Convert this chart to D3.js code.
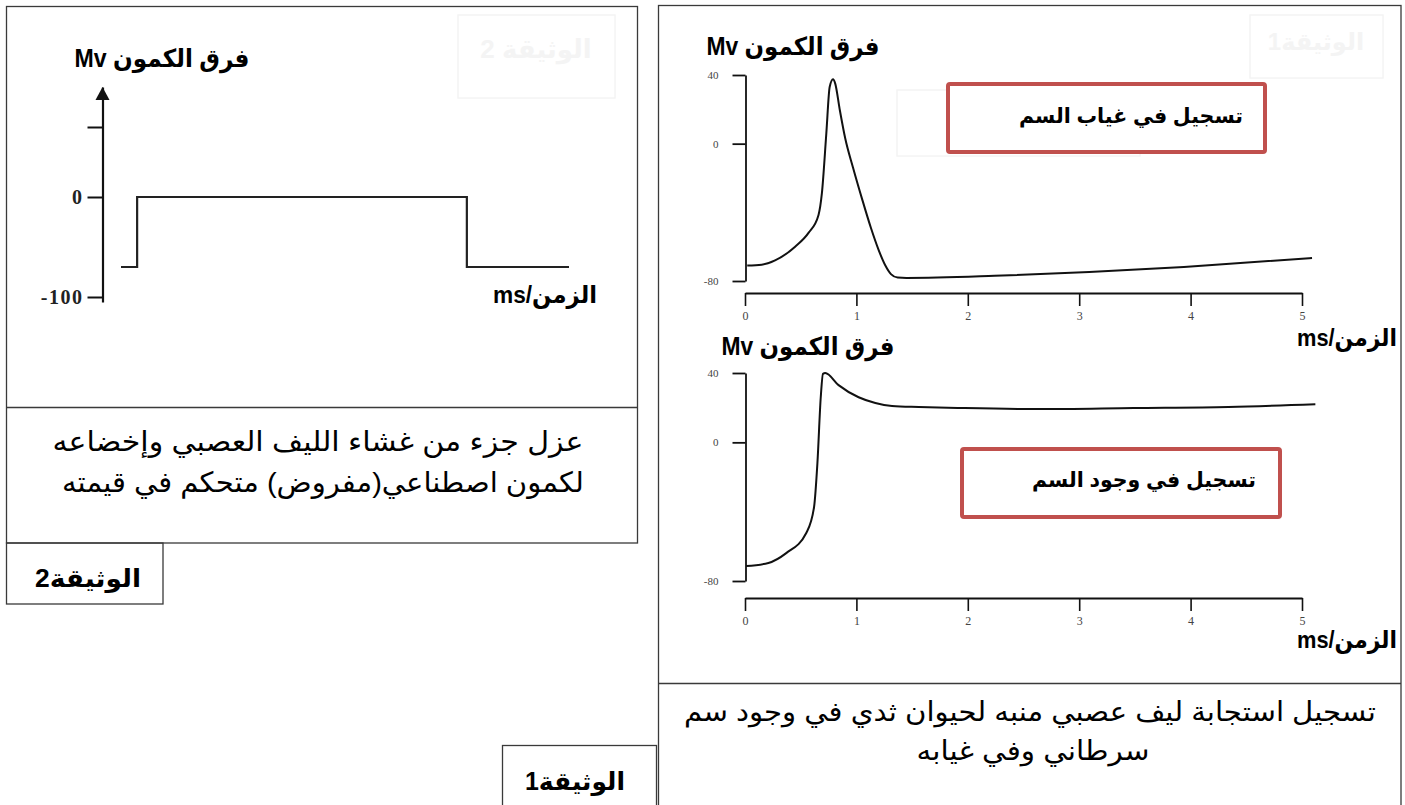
<!DOCTYPE html>
<html lang="ar">
<head>
<meta charset="utf-8">
<script src="https://cdn.jsdelivr.net/npm/d3@7"></script>
<style>
  html, body { margin: 0; padding: 0; background: #fff; }
  svg { display: block; }
  .ar { direction: rtl; unicode-bidi: embed; }
</style>
</head>
<body>
<svg id="chart" width="1405" height="805"></svg>
<script>
// ---- Document 2: imposed (clamped) membrane potential ----
const clampTime = [0, 0.36, 0.36, 7.72, 7.72, 10];     // ms (schematic)
const clampVolt = [-70, -70, 0, 0, -70, -70];          // mV
const clampTickValues = [70, 0, -100];
const clampTickLabels = ["", "0", "-100"];

// ---- Document 1: recordings from a stimulated nerve fibre ----
const timeTicks = [0, 1, 2, 3, 4, 5];
const voltTicks = [40, 0, -80];
const voltTickLabels = ["40", "0", "-80"];

// recording without the toxin
const ctrlTime = [0.02, 0.15, 0.27, 0.45, 0.57, 0.66, 0.69, 0.73, 0.76, 0.79, 0.81, 0.85, 0.90, 0.97, 1.05, 1.13, 1.20, 1.26, 1.31, 1.37, 1.45, 2.24, 3.09, 3.94, 5.09];
const ctrlVolt = [-71, -70.5, -68, -60, -52, -41.5, -29, 6, 33, 37.5, 35, 20, 3, -14, -32, -49, -62, -71, -76, -78, -78.2, -77, -74.8, -71.8, -66.6];

// recording with the toxin
const toxTime = [0.01, 0.21, 0.37, 0.55, 0.62, 0.65, 0.68, 0.70, 0.72, 0.84, 1.02, 1.17, 1.32, 1.56, 1.95, 2.63, 3.49, 4.34, 5.12];
const toxVolt = [-71.4, -69.6, -63.9, -52.3, -37.3, -12, 26, 39.5, 40, 33, 26, 22.7, 21, 20.4, 19.8, 19.2, 19.8, 20.4, 22];

const yTitle = "فرق الكمون Mv";
const xTitle = "الزمن/ms";
const caption2 = ["عزل جزء من غشاء الليف العصبي وإخضاعه", "لكمون اصطناعي(مفروض) متحكم في قيمته"];
const caption1 = ["تسجيل استجابة ليف عصبي منبه لحيوان ثدي في وجود سم", "سرطاني وفي غيابه"];
const docLabel2 = "الوثيقة2";
const docLabel1 = "الوثيقة1";
const boxCtrl = "تسجيل في غياب السم";
const boxTox = "تسجيل في وجود السم";

const AR = "'Liberation Sans', Arial, 'DejaVu Sans', sans-serif";
const SERIF = "'Liberation Serif', 'Times New Roman', serif";
const FRAME = "#3a3a3a";
const RED = "#c0504d";

const svg = d3.select("#chart");

// Arabic text centred on x, optionally fitted to a given width
function arText(g, x, y, txt, size, weight, fill, width) {
  const t = g.append("text")
    .attr("class", "ar")
    .attr("x", x).attr("y", y)
    .attr("text-anchor", "middle")
    .attr("font-family", AR)
    .attr("font-size", size)
    .attr("font-weight", weight || "normal")
    .attr("fill", fill || "#000")
    .text(txt);
  if (width) t.attr("textLength", width).attr("lengthAdjust", "spacingAndGlyphs");
  return t;
}

// faint show-through of the page behind
const ghost = svg.append("g").attr("fill", "none").attr("stroke", "#f4f4f4").attr("stroke-width", 1.5);
ghost.append("rect").attr("x", 458).attr("y", 15).attr("width", 157).attr("height", 83);
ghost.append("rect").attr("x", 1250).attr("y", 15).attr("width", 133).attr("height", 63);
ghost.append("rect").attr("x", 897).attr("y", 90).attr("width", 243).attr("height", 66);
arText(svg, 536, 58, "الوثيقة 2", 26, "bold", "#f4f4f4");
arText(svg, 1316, 50, "الوثيقة1", 24, "bold", "#f4f4f4");

// ---------- frames ----------
const frames = svg.append("g").attr("fill", "none").attr("stroke", FRAME).attr("stroke-width", 1.3);
frames.append("rect").attr("x", 6.5).attr("y", 6.5).attr("width", 631).attr("height", 536.5);
frames.append("line").attr("x1", 6.5).attr("x2", 637.5).attr("y1", 407.5).attr("y2", 407.5);
frames.append("rect").attr("x", 6.5).attr("y", 543).attr("width", 156.5).attr("height", 61);
frames.append("rect").attr("x", 658.5).attr("y", 5.5).attr("width", 742.5).attr("height", 810);
frames.append("line").attr("x1", 658.5).attr("x2", 1401).attr("y1", 683.5).attr("y2", 683.5);
frames.append("rect").attr("x", 502.5).attr("y", 745.5).attr("width", 154).attr("height", 70);

// ---------- document 2 chart ----------
const xL = d3.scaleLinear().domain([0, 10]).range([121, 569]);
const yL = d3.scaleLinear().domain([-105, 110]).range([302, 87]);

const axL = svg.append("g").attr("transform", "translate(102.5,0)")
  .call(d3.axisLeft(yL).tickValues(clampTickValues)
    .tickFormat((d, i) => clampTickLabels[i]).tickSize(15).tickSizeOuter(0).tickPadding(4));
axL.select(".domain").attr("stroke", "#111").attr("stroke-width", 2.2);
axL.selectAll(".tick line").attr("stroke", "#111").attr("stroke-width", 2);
axL.selectAll(".tick text").attr("font-family", SERIF).attr("font-weight", "bold")
  .attr("font-size", 20).attr("fill", "#222").attr("letter-spacing", 1.5);
// arrow head on the potential axis
svg.append("path")
  .attr("d", `M${102.5 - 7},${yL(110) + 13} L${102.5},${yL(110)} L${102.5 + 7},${yL(110) + 13} Z`)
  .attr("fill", "#111");

svg.append("path")
  .datum(clampTime.map((t, i) => [t, clampVolt[i]]))
  .attr("fill", "none").attr("stroke", "#222").attr("stroke-width", 2.2)
  .attr("d", d3.line().x(d => xL(d[0])).y(d => yL(d[1])));

arText(svg, 162, 67, yTitle, 25, "bold", "#000", 175);
arText(svg, 545, 303, xTitle, 24, "bold", "#000", 104);

arText(svg, 318, 451, caption2[0], 28, "normal", "#000", 531);
arText(svg, 323, 492, caption2[1], 28, "normal", "#000", 522);
arText(svg, 88, 587, docLabel2, 25, "bold", "#000", 106);

// ---------- document 1 charts ----------
const xR = d3.scaleLinear().domain([0, 5]).range([745, 1302]);

function recording(top, bottom, axisY, times, volts, title, titleX, titleY, xlabY, box, boxText, boxTextX, boxTextY) {
  const y = d3.scaleLinear().domain([-80, 40]).range([bottom, top]);

  const ay = svg.append("g").attr("transform", "translate(745.5,0)")
    .call(d3.axisLeft(y).tickValues(voltTicks).tickFormat((d, i) => voltTickLabels[i])
      .tickSize(13).tickSizeOuter(0).tickPadding(14));
  ay.select(".domain").attr("stroke", "#111").attr("stroke-width", 1.8);
  ay.selectAll(".tick line").attr("stroke", "#111").attr("stroke-width", 1.8);
  ay.selectAll(".tick text").attr("font-family", SERIF).attr("font-size", 11).attr("fill", "#444");

  const ax = svg.append("g").attr("transform", `translate(0,${axisY})`)
    .call(d3.axisBottom(xR).tickValues(timeTicks).tickFormat(d3.format("d"))
      .tickSize(13).tickSizeOuter(0).tickPadding(5));
  ax.select(".domain").attr("stroke", "#111").attr("stroke-width", 1.8);
  ax.selectAll(".tick line").attr("stroke", "#111").attr("stroke-width", 1.6);
  ax.selectAll(".tick text").attr("font-family", SERIF).attr("font-size", 12).attr("fill", "#444");

  svg.append("path")
    .datum(times.map((t, i) => [t, volts[i]]))
    .attr("fill", "none").attr("stroke", "#111").attr("stroke-width", 2)
    .attr("stroke-linejoin", "round")
    .attr("d", d3.line().curve(d3.curveMonotoneX).x(d => xR(d[0])).y(d => y(d[1])));

  arText(svg, titleX, titleY, title, 25, "bold", "#000", 173);
  arText(svg, 1347, xlabY, xTitle, 24, "bold", "#000", 100);

  svg.append("rect").attr("x", box[0]).attr("y", box[1]).attr("width", box[2]).attr("height", box[3])
    .attr("rx", 2).attr("fill", "#fff").attr("stroke", RED).attr("stroke-width", 4);
  arText(svg, boxTextX, boxTextY, boxText, 21, "bold", "#000", 224);
}

recording(75, 281, 293, ctrlTime, ctrlVolt, yTitle, 793, 55, 346, [948, 84, 317, 68], boxCtrl, 1131, 123);
recording(373, 581, 598, toxTime, toxVolt, yTitle, 808, 355, 648, [962, 449, 318, 68], boxTox, 1144, 487);

arText(svg, 1030, 721, caption1[0], 27, "normal", "#000", 692);
arText(svg, 1033, 760, caption1[1], 27, "normal", "#000", 233);
arText(svg, 575, 790, docLabel1, 25, "bold", "#000", 100);
</script>
</body>
</html>
